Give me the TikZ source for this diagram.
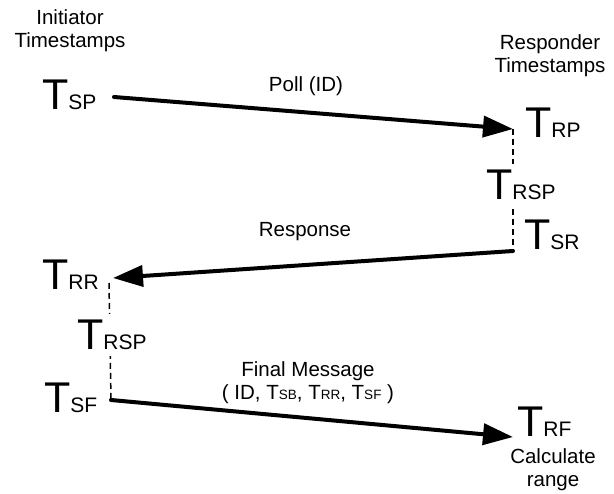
\documentclass[tikz,border=0pt]{standalone}
\usepackage{fontspec}
\setmainfont{Liberation Sans}
\usetikzlibrary{arrows.meta}

% timestamp label: large T with a subscript on the same baseline
\newcommand{\stamp}[1]{{\fontsize{43}{43}\selectfont T}{\fontsize{21}{21}\selectfont #1}}
% small timestamp inside running text
\newcommand{\smallstamp}[1]{T{\fontsize{13.5}{13.5}\selectfont #1}}

\begin{document}
\begin{tikzpicture}[x=1pt,y=-1pt,
  stampnode/.style={inner xsep=0pt,inner ysep=6pt,anchor=base west},
  caption/.style={inner sep=0pt,align=center,font=\fontsize{20.5}{23}\selectfont},
  msg/.style={line width=4pt,line cap=round,-{Triangle[length=30pt,width=21pt]}},
  wait/.style={line width=1.5pt,dash pattern=on 6pt off 4pt}]
  \useasboundingbox (0,0) rectangle (614,494);

  % message end points
  \coordinate (pollA) at (114,97);
  \coordinate (pollB) at (513,129);
  \coordinate (respA) at (513,251);
  \coordinate (respB) at (113,278);
  \coordinate (finA)  at (111,400);
  \coordinate (finB)  at (513,437);
  \coordinate (waitI) at (109,283);

  % reply delays (drawn first, the mid timestamps sit on top of them)
  \draw[wait] (pollB) -- (respA);
  \draw[wait] (waitI) -- (finA);

  % messages
  \draw[msg] (pollA) -- (pollB);
  \draw[msg] (respA) -- (respB);
  \draw[msg] (finA) -- (finB);

  % column headings (base = baseline of the last line)
  \node[caption,anchor=base] (ihead) at (70,48) {Initiator\\Timestamps};
  \node[caption,anchor=base] (rhead) at (550,73) {Responder\\Timestamps};

  % initiator timestamps
  \node[stampnode] (tsp)  at (42,110) {\stamp{SP}};
  \node[stampnode] (trr)  at (42,290) {\stamp{RR}};
  \node[stampnode,fill=white] (trspi) at (77,350) {\stamp{RSP}};
  \node[stampnode] (tsf)  at (44,413) {\stamp{SF}};

  % responder timestamps
  \node[stampnode] (trp)  at (525,138) {\stamp{RP}};
  \node[stampnode,fill=white] (trspr) at (486,200) {\stamp{RSP}};
  \node[stampnode] (tsr)  at (524,250) {\stamp{SR}};
  \node[stampnode] (trf)  at (517,437) {\stamp{RF}};
  \node[caption,anchor=base] (calc) at (553,487) {Calculate\\range};

  % message labels
  \node[caption,anchor=base] (polllbl) at (306,92) {Poll (ID)};
  \node[caption,anchor=base] (resplbl) at (305,237) {Response};
  \node[caption,anchor=base] (finlbl) at (308,400)
    {Final Message\\( ID, \smallstamp{SB}, \smallstamp{RR}, \smallstamp{SF} )};
\end{tikzpicture}
\end{document}
